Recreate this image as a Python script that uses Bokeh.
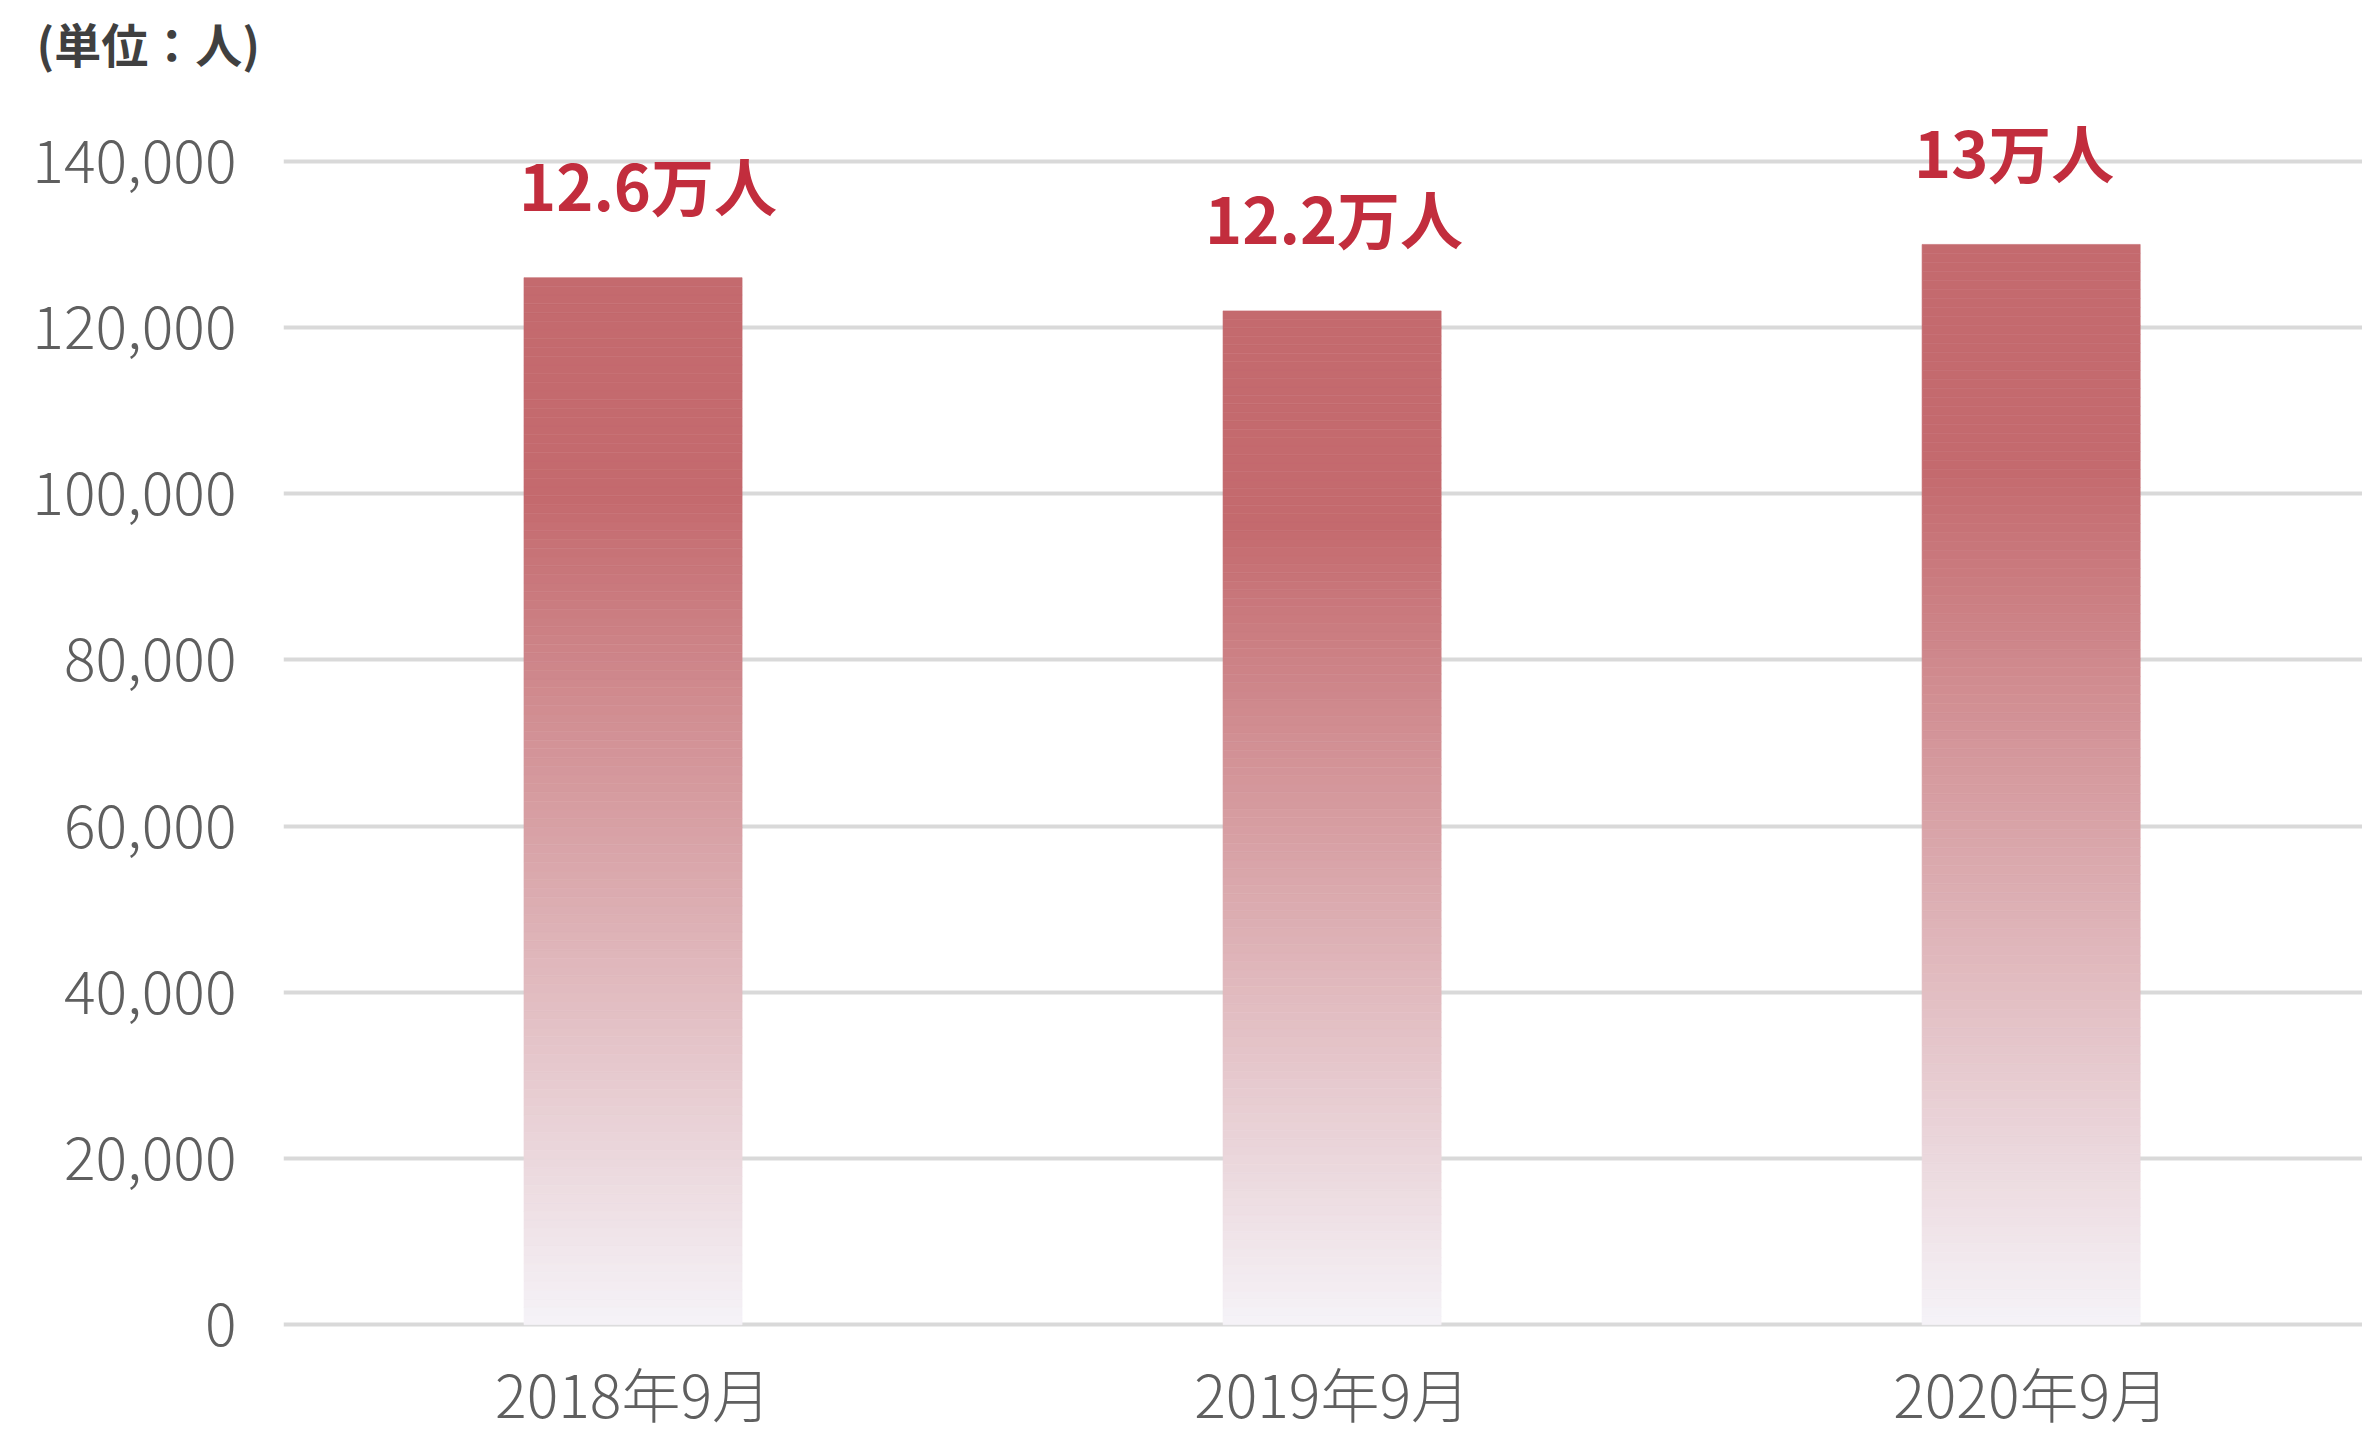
from bokeh.plotting import figure
from bokeh.models import Range1d, FixedTicker, NumeralTickFormatter, ColumnDataSource
from bokeh.embed import file_html
from bokeh.resources import INLINE
from bokeh.core.properties import value

# ---- data ----
categories = ["2018年9月", "2019年9月", "2020年9月"]
values = [126000, 122000, 130000]
value_labels = ["12.6万人", "12.2万人", "13万人"]
y_ticks = [0, 20000, 40000, 60000, 80000, 100000, 120000, 140000]
unit_label = "(単位：人)"

# ---- style ----
TOP_RGB = (196, 106, 110)
BOTTOM_RGB = (245, 243, 248)
SOLID_FRAC = 0.79
N_SLICES = 120
BAR_WIDTH = 0.312
LABEL_DX = [15, 2, -17]
FONT = "Noto Sans CJK JP"
TICK_FONT = "'Noto Sans CJK JP Light', 'Noto Sans CJK JP'"

W, H = 2362, 1435
TITLE_STANDOFF = 10
FRAME_TOP = 78             # px from canvas top (title panel height)
ZERO_PX = 1324             # canvas y of value 0
TOP_TICK_PX = 158          # canvas y of 140,000
U_PER_PX = (y_ticks[-1] - y_ticks[0]) / (ZERO_PX - TOP_TICK_PX)
y_end = y_ticks[-1] + (TOP_TICK_PX - FRAME_TOP) * U_PER_PX
y_start = -(H - ZERO_PX) * U_PER_PX

p = figure(width=W, height=H, output_backend="svg", toolbar_location=None,
           title=unit_label, x_axis_type=None,
           x_range=Range1d(-0.5, 2.474), y_range=Range1d(y_start, y_end),
           min_border_left=283, min_border_right=0, min_border_top=0,
           min_border_bottom=0)
p.outline_line_color = None
p.background_fill_color = "white"
p.border_fill_color = "white"

p.title.align = "left"
p.title.offset = -247
p.title.standoff = TITLE_STANDOFF
p.title.text_font = FONT
p.title.text_font_style = "bold"
p.title.text_font_size = "47px"
p.title.text_color = "#404040"

# gradient bars built from the values
src = dict(left=[], right=[], bottom=[], top=[], color=[])
for i, v in enumerate(values):
    for k in range(N_SLICES):
        f0 = k / N_SLICES
        f1 = (k + 1) / N_SLICES
        t = min(((f0 + f1) / 2) / SOLID_FRAC, 1.0)
        c = tuple(int(round(b + (a - b) * t)) for a, b in zip(TOP_RGB, BOTTOM_RGB))
        src["left"].append(i - BAR_WIDTH / 2)
        src["right"].append(i + BAR_WIDTH / 2)
        src["bottom"].append(v * f0)
        src["top"].append(v * f1)
        src["color"].append("#%02x%02x%02x" % c)
p.quad(left="left", right="right", bottom="bottom", top="top", fill_color="color",
       line_color="color", line_width=0.6, source=ColumnDataSource(src))

# value labels
p.text(x=list(range(len(values))), y=values, text=value_labels,
       text_align="center", text_baseline="middle", y_offset=-94, x_offset=LABEL_DX,
       text_font=value(FONT), text_font_style="bold", text_font_size="63px",
       text_color="#c22d3d")

# category labels under the bars
p.text(x=list(range(len(categories))), y=[0] * len(categories), text=categories,
       text_align="center", text_baseline="middle", y_offset=68,
       text_font=value(TICK_FONT), text_font_size="59px", text_color="#5f5f5f")

# y axis
p.yaxis.ticker = FixedTicker(ticks=y_ticks)
p.yaxis.formatter = NumeralTickFormatter(format="0,0")
p.yaxis.axis_line_color = None
p.yaxis.major_tick_line_color = None
p.yaxis.minor_tick_line_color = None
p.yaxis.major_tick_out = 0
p.yaxis.major_label_standoff = 47
p.yaxis.major_label_text_font = TICK_FONT
p.yaxis.major_label_text_font_size = "59px"
p.yaxis.major_label_text_color = "#5f5f5f"

p.ygrid.ticker = FixedTicker(ticks=y_ticks)
p.ygrid.grid_line_color = "#d9d9d9"
p.ygrid.grid_line_width = 4

open("out.html", "w").write(file_html(p, INLINE))
